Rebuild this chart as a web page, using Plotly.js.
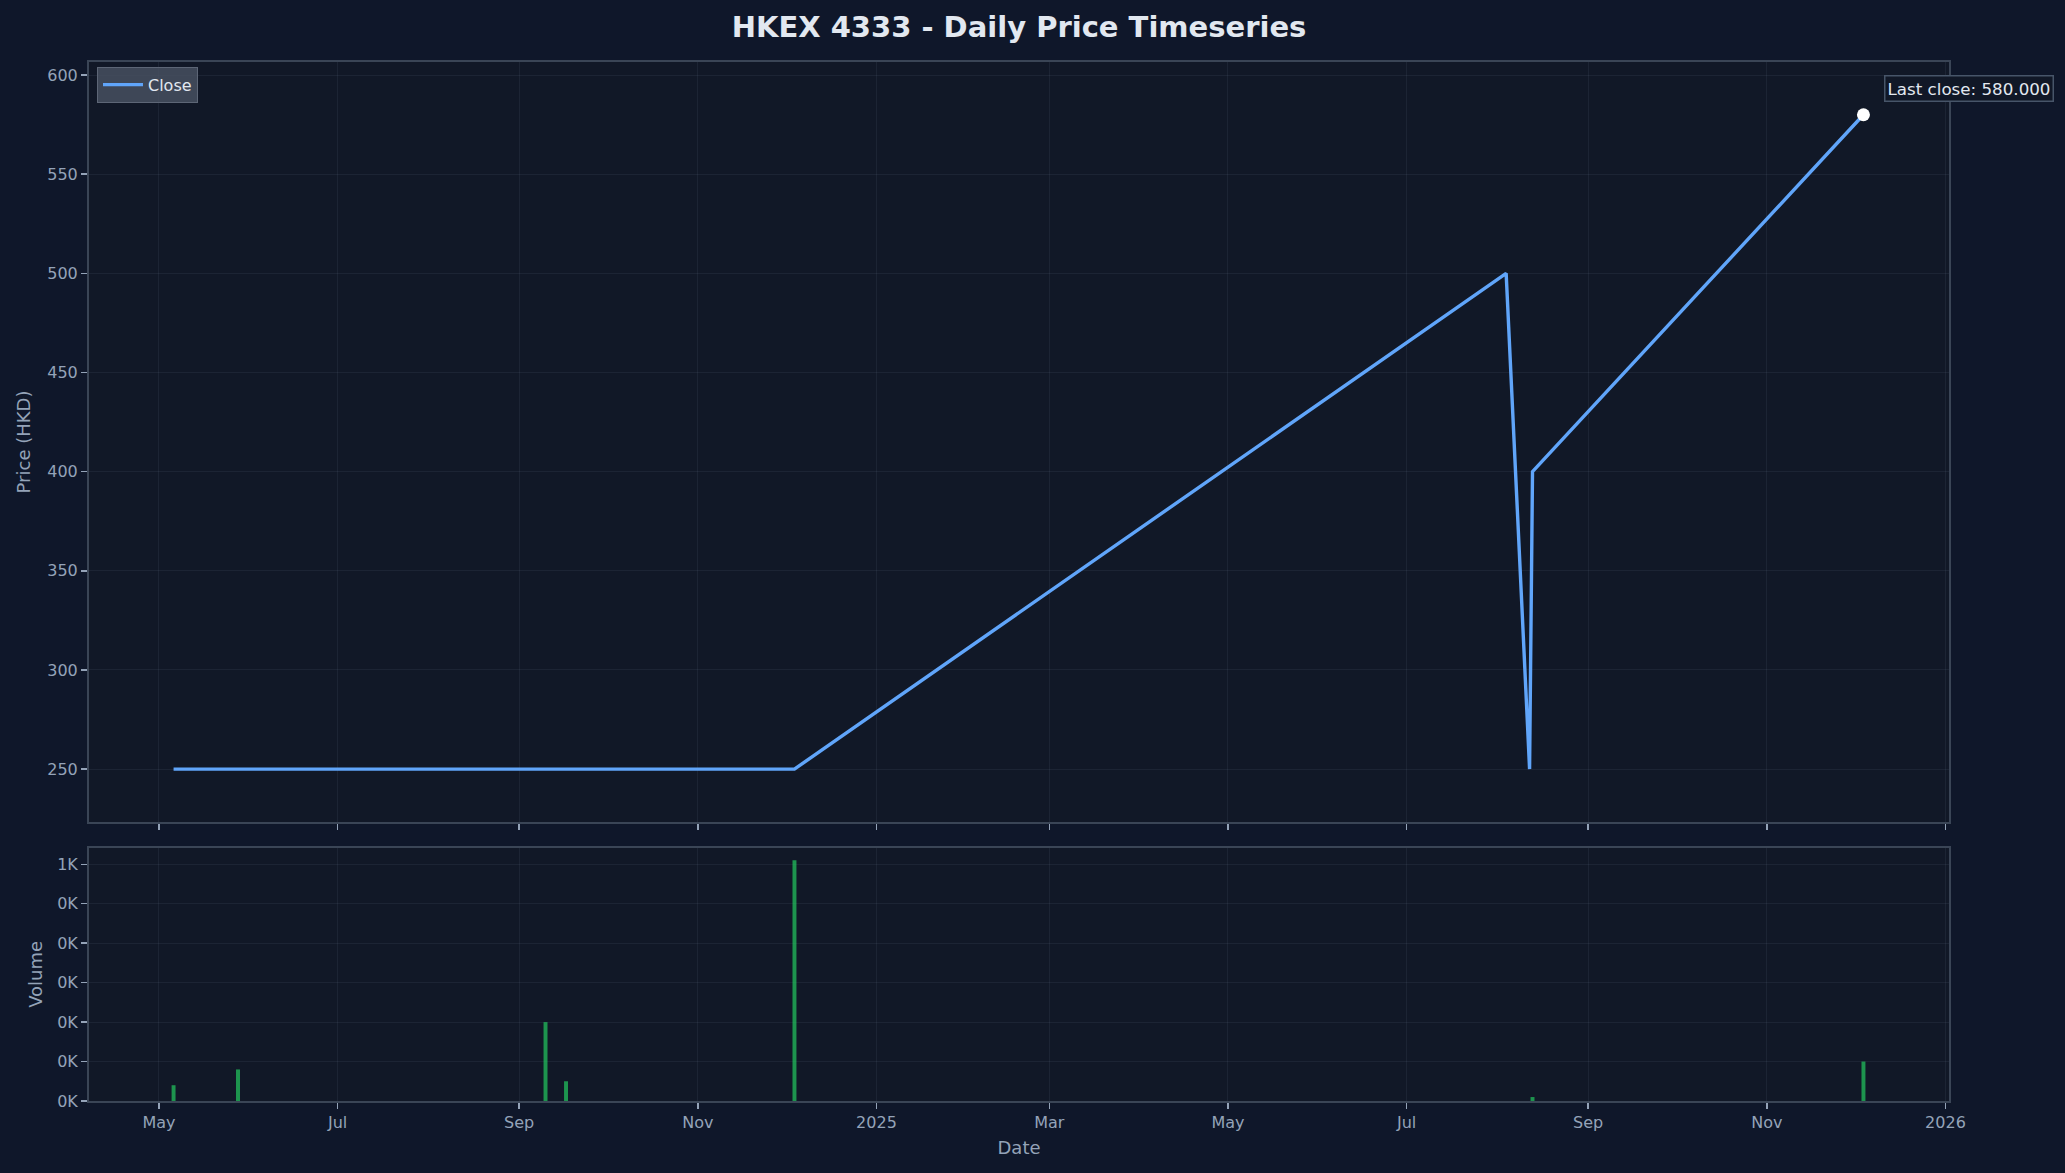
<!DOCTYPE html>
<html>
<head>
<meta charset="utf-8">
<script src="https://cdn.plot.ly/plotly-3.0.1.min.js"></script>
<style>
  html, body { margin: 0; padding: 0; background: #0f172a; }
  #chart { width: 2065px; height: 1173px; }
</style>
</head>
<body>
<div id="chart"></div>
<script>
// ---- Data ----
const dates  = ['2024-05-06', '2024-05-28', '2024-09-10', '2024-09-17', '2024-12-04',
                '2025-08-04', '2025-08-12', '2025-08-13', '2025-12-04'];
const closes = [250, 250, 250, 250, 250, 500, 250, 400, 580];
const volumes = [40, 80, 200, 50, 610, 0, 0, 10, 100];

const xTickDates  = ['2024-05-01', '2024-07-01', '2024-09-01', '2024-11-01', '2025-01-01',
                     '2025-03-01', '2025-05-01', '2025-07-01', '2025-09-01', '2025-11-01', '2026-01-01'];
const xTickLabels = ['May', 'Jul', 'Sep', 'Nov', '2025', 'Mar', 'May', 'Jul', 'Sep', 'Nov', '2026'];
const priceTicks  = [250, 300, 350, 400, 450, 500, 550, 600];
const volTickVals   = [0, 100, 200, 300, 400, 500, 600];
const volTickLabels = ['0K', '0K', '0K', '0K', '0K', '0K', '1K'];

const titleText = 'HKEX 4333 - Daily Price Timeseries';

// ---- Styles ----
const FONT = 'DejaVu Sans, sans-serif';
const TICK_COLOR = '#94a3b8';
const SPINE = '#3a4556';
const GRID = 'rgba(148,163,184,0.09)';

const lastDate = dates[dates.length - 1];
const lastClose = closes[closes.length - 1];

const traces = [
  {
    type: 'scatter', mode: 'lines', name: 'Close',
    x: dates, y: closes, xaxis: 'x', yaxis: 'y',
    line: { color: '#60a5fa', width: 3.4 },
    hoverinfo: 'skip'
  },
  {
    type: 'scatter', mode: 'markers', showlegend: false,
    x: [lastDate], y: [lastClose], xaxis: 'x', yaxis: 'y',
    marker: { color: '#ffffff', size: 13, line: { width: 0 } },
    hoverinfo: 'skip'
  },
  {
    type: 'bar', name: 'Volume', showlegend: false,
    x: dates, y: volumes, xaxis: 'x2', yaxis: 'y2',
    width: 86400000 * 1.35,
    marker: { color: 'rgba(34,197,94,0.72)', line: { width: 0 } },
    hoverinfo: 'skip'
  }
];

const xRange = ['2024-04-07 03:00', '2026-01-02 05:00'];

const baseX = {
  type: 'date', range: xRange,
  tickmode: 'array', tickvals: xTickDates, ticktext: xTickLabels,
  ticks: 'outside', ticklen: 6, tickwidth: 1.5, tickcolor: TICK_COLOR,
  showgrid: true, gridcolor: GRID, gridwidth: 1,
  showline: true, linecolor: SPINE, linewidth: 2, mirror: true,
  zeroline: false,
  tickfont: { family: FONT, size: 16, color: TICK_COLOR }
};

const layout = {
  width: 2065, height: 1173,
  paper_bgcolor: '#0f172a',
  plot_bgcolor: '#111827',
  margin: { l: 89, r: 116, t: 62, b: 72, pad: 0 },
  font: { family: FONT, color: TICK_COLOR },
  title: {
    text: '<b>' + titleText + '</b>',
    font: { family: FONT, size: 29, color: '#e2e8f0' },
    x: 0.5, xref: 'paper', xanchor: 'center',
    y: 1 - 27 / 1173, yref: 'container', yanchor: 'middle'
  },
  showlegend: true,
  legend: {
    x: 0.0043, y: 0.9955, xanchor: 'left', yanchor: 'top',
    bgcolor: 'rgba(71,80,96,0.85)', bordercolor: '#5d6676', borderwidth: 1,
    font: { family: FONT, size: 16, color: '#e2e8f0' },
    itemwidth: 40
  },
  xaxis: Object.assign({}, baseX, {
    domain: [0, 1], anchor: 'y', showticklabels: false
  }),
  xaxis2: Object.assign({}, baseX, {
    domain: [0, 1], anchor: 'y2', matches: 'x', showticklabels: true,
    title: { text: 'Date', font: { family: FONT, size: 18, color: TICK_COLOR }, standoff: 10 }
  }),
  yaxis: {
    domain: [0.2685, 1], anchor: 'x',
    range: [223.3, 606.6],
    tickmode: 'array', tickvals: priceTicks,
    ticks: 'outside', ticklen: 6, tickwidth: 1.5, tickcolor: TICK_COLOR,
    showgrid: true, gridcolor: GRID, gridwidth: 1,
    showline: true, linecolor: SPINE, linewidth: 2, mirror: true,
    zeroline: false,
    tickfont: { family: FONT, size: 16, color: TICK_COLOR },
    title: { text: 'Price (HKD)', font: { family: FONT, size: 18, color: TICK_COLOR }, standoff: 12 },
    automargin: true
  },
  yaxis2: {
    domain: [0, 0.2438], anchor: 'x2',
    range: [0, 642],
    tickmode: 'array', tickvals: volTickVals, ticktext: volTickLabels,
    ticks: 'outside', ticklen: 6, tickwidth: 1.5, tickcolor: TICK_COLOR,
    showgrid: true, gridcolor: GRID, gridwidth: 1,
    showline: true, linecolor: SPINE, linewidth: 2, mirror: true,
    zeroline: false,
    tickfont: { family: FONT, size: 16, color: TICK_COLOR },
    title: { text: 'Volume', font: { family: FONT, size: 18, color: TICK_COLOR }, standoff: 10 },
    automargin: true
  },
  annotations: [
    {
      xref: 'x', yref: 'y', x: lastDate, y: lastClose,
      text: 'Last close: ' + lastClose.toFixed(3),
      showarrow: false, xanchor: 'left', yanchor: 'middle',
      xshift: 21, yshift: 26,
      font: { family: FONT, size: 16.7, color: '#e2e8f0' },
      bgcolor: '#111827', bordercolor: '#475569', borderwidth: 1.5, borderpad: 2
    }
  ]
};

Plotly.newPlot('chart', traces, layout, { displayModeBar: false, staticPlot: true });
</script>
</body>
</html>
